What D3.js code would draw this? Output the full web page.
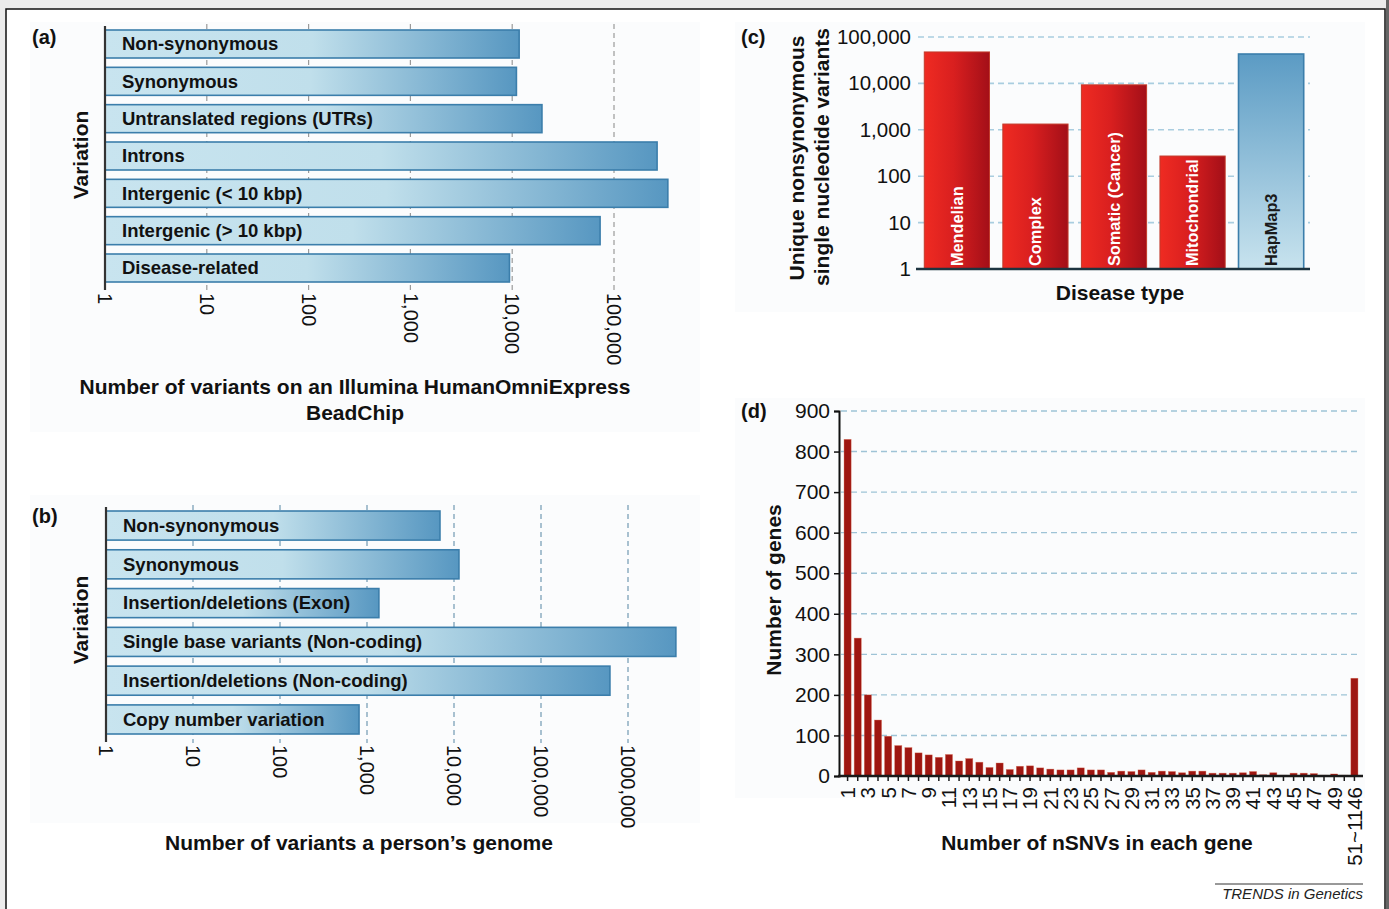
<!DOCTYPE html>
<html>
<head>
<meta charset="utf-8">
<script src="https://cdn.jsdelivr.net/npm/d3@7"></script>
<style>
  body { margin: 0; background: #ececec; }
  svg { display: block; font-family: "Liberation Sans", Arial, Helvetica, sans-serif; }
</style>
</head>
<body>
<svg id="fig" width="1389" height="909"></svg>
<script>
// ---- data ----
var aCategories = ["Non-synonymous", "Synonymous", "Untranslated regions (UTRs)", "Introns",
                   "Intergenic (< 10 kbp)", "Intergenic (> 10 kbp)", "Disease-related"];
var aValues = [11700, 11000, 19600, 265000, 338000, 73000, 9400];
var aTicks = [1, 10, 100, 1000, 10000, 100000];
var aTickLabels = ["1", "10", "100", "1,000", "10,000", "100,000"];

var bCategories = ["Non-synonymous", "Synonymous", "Insertion/deletions (Exon)",
                   "Single base variants (Non-coding)", "Insertion/deletions (Non-coding)",
                   "Copy number variation"];
var bValues = [6900, 11400, 1370, 3550000, 620000, 810];
var bTicks = [1, 10, 100, 1000, 10000, 100000, 1000000];
var bTickLabels = ["1", "10", "100", "1,000", "10,000", "100,000", "1000,000"];

var cCategories = ["Mendelian", "Complex", "Somatic (Cancer)", "Mitochondrial", "HapMap3"];
var cValues = [47600, 1330, 9300, 272, 43000];
var cTicks = [1, 10, 100, 1000, 10000, 100000];

var dCategories = ["1","2","3","4","5","6","7","8","9","10","11","12","13","14","15","16","17",
                   "18","19","20","21","22","23","24","25","26","27","28","29","30","31","32","33",
                   "34","35","36","37","38","39","40","41","42","43","44","45","46","47","48","49",
                   "50","51~1146"];
var dValues = [830, 340, 200, 138, 98, 75, 70, 57, 52, 46, 53, 37, 43, 34, 21, 32, 16, 24, 25, 20,
               17, 15, 15, 20, 15, 15, 9, 12, 11, 15, 9, 12, 11, 8, 12, 12, 7, 7, 7, 8, 11, 3, 8,
               2, 7, 7, 6, 2, 5, 2, 241];
var dTicks = [0, 100, 200, 300, 400, 500, 600, 700, 800, 900];

var svg = d3.select("#fig");

// ---- gradients ----
var defs = svg.append("defs");
var blueH = defs.append("linearGradient").attr("id", "blueH");
blueH.append("stop").attr("offset", "0%").attr("stop-color", "#c8e4ef");
blueH.append("stop").attr("offset", "50%").attr("stop-color", "#c0dfeb");
blueH.append("stop").attr("offset", "100%").attr("stop-color", "#5797c1");

var redH = defs.append("linearGradient").attr("id", "redH");
redH.append("stop").attr("offset", "0%").attr("stop-color", "#ef2b22");
redH.append("stop").attr("offset", "45%").attr("stop-color", "#d91f1f");
redH.append("stop").attr("offset", "100%").attr("stop-color", "#a30f18");

var blueV = defs.append("linearGradient").attr("id", "blueV")
    .attr("x1", 0).attr("y1", 0).attr("x2", 0).attr("y2", 1);
blueV.append("stop").attr("offset", "0%").attr("stop-color", "#5b9bc4");
blueV.append("stop").attr("offset", "100%").attr("stop-color", "#c8e3ee");

// ---- frame and panel backgrounds ----
svg.append("rect").attr("x", 6).attr("y", 9).attr("width", 1379).attr("height", 910)
    .attr("fill", "#fff").attr("stroke", "#111").attr("stroke-width", 1.5);
svg.append("rect").attr("x", 1386).attr("y", 0).attr("width", 3).attr("height", 909).attr("fill", "#666");

[[30, 22, 670, 410], [30, 495, 670, 328], [735, 22, 630, 290], [735, 398, 630, 400]].forEach(function (r) {
    svg.append("rect").attr("x", r[0]).attr("y", r[1]).attr("width", r[2]).attr("height", r[3])
        .attr("fill", "#fbfcfd");
});

function panelLabel(t, x, y) {
    svg.append("text").attr("x", x).attr("y", y).text(t)
        .attr("font-size", 20).attr("font-weight", "bold").attr("fill", "#111");
}

function boldTitle(t, x, y, rot) {
    var s = svg.append("text").text(t)
        .attr("font-size", 21).attr("font-weight", "bold").attr("fill", "#111")
        .attr("text-anchor", "middle");
    if (rot) s.attr("transform", "translate(" + x + "," + y + ") rotate(-90)");
    else s.attr("x", x).attr("y", y);
    return s;
}

// ---- horizontal log bar panels (a) and (b) ----
function hbarPanel(cats, vals, ticks, tickLabels, xr, yr, gridColor) {
    var x = d3.scaleLog().domain([1, ticks[ticks.length - 1]]).range(xr);
    var y = d3.scaleBand().domain(cats).range(yr).paddingInner(0.25).paddingOuter(0);
    var g = svg.append("g");

    g.selectAll("line.grid").data(ticks.slice(1)).enter().append("line")
        .attr("class", "grid")
        .attr("x1", x).attr("x2", x)
        .attr("y1", yr[0] - 6).attr("y2", yr[1] + 9)
        .attr("stroke", gridColor).attr("stroke-width", 1.2).attr("stroke-dasharray", "5,4");

    g.selectAll("rect.bar").data(vals).enter().append("rect")
        .attr("class", "bar")
        .attr("x", x(1))
        .attr("y", function (d, i) { return y(cats[i]); })
        .attr("width", function (d) { return x(d) - x(1); })
        .attr("height", y.bandwidth())
        .attr("fill", "url(#blueH)")
        .attr("stroke", "#3b7eab").attr("stroke-width", 1.6);

    g.selectAll("text.lab").data(cats).enter().append("text")
        .attr("class", "lab")
        .attr("x", x(1) + 17)
        .attr("y", function (d) { return y(d) + y.bandwidth() / 2; })
        .attr("dy", "0.34em")
        .attr("font-size", 18.5).attr("font-weight", "bold").attr("fill", "#111")
        .text(function (d) { return d; });

    g.append("line").attr("x1", x(1)).attr("x2", x(1))
        .attr("y1", yr[0] - 4).attr("y2", yr[1] + 8)
        .attr("stroke", "#333").attr("stroke-width", 2.2);

    var axis = g.append("g").attr("transform", "translate(0," + (yr[1] + 3) + ")")
        .call(d3.axisBottom(x).tickValues(ticks).tickSize(0)
            .tickFormat(function (d, i) { return tickLabels[i]; }));
    axis.attr("font-family", null).attr("font-size", null);
    axis.select(".domain").remove();
    axis.selectAll("text")
        .attr("font-size", 20).attr("fill", "#111")
        .attr("x", 8).attr("y", 0).attr("dy", "0.36em")
        .attr("transform", "rotate(90)")
        .style("text-anchor", "start");
}

hbarPanel(aCategories, aValues, aTicks, aTickLabels, [105, 614], [30, 282], "#9a9a9a");
hbarPanel(bCategories, bValues, bTicks, bTickLabels, [106, 628], [511, 734], "#7199b3");

panelLabel("(a)", 32, 44);
panelLabel("(b)", 32, 523);
boldTitle("Variation", 88, 155, true);
boldTitle("Variation", 88, 620, true);
boldTitle("Number of variants on an Illumina HumanOmniExpress", 355, 394);
boldTitle("BeadChip", 355, 420);
boldTitle("Number of variants a person\u2019s genome", 359, 850);

// ---- panel (c) ----
(function () {
    var x = d3.scaleBand().domain(cCategories).range([918, 1310]).paddingInner(0.17).paddingOuter(0.08);
    var y = d3.scaleLog().domain([1, 100000]).range([269, 37]);
    var g = svg.append("g");

    g.selectAll("line.grid").data(cTicks.slice(1)).enter().append("line")
        .attr("x1", 918).attr("x2", 1310)
        .attr("y1", y).attr("y2", y)
        .attr("stroke", "#a9cde0").attr("stroke-width", 1.6).attr("stroke-dasharray", "6,4");

    g.selectAll("rect.bar").data(cValues).enter().append("rect")
        .attr("x", function (d, i) { return x(cCategories[i]); })
        .attr("y", function (d) { return y(d); })
        .attr("width", x.bandwidth())
        .attr("height", function (d) { return y(1) - y(d); })
        .attr("fill", function (d, i) { return i === 4 ? "url(#blueV)" : "url(#redH)"; })
        .attr("stroke", function (d, i) { return i === 4 ? "#3b7eab" : "#c23a2a"; })
        .attr("stroke-width", function (d, i) { return i === 4 ? 1.6 : 1; });

    g.selectAll("text.lab").data(cCategories).enter().append("text")
        .attr("transform", function (d) {
            return "translate(" + (x(d) + x.bandwidth() / 2) + ",266) rotate(-90)";
        })
        .attr("dy", "0.36em")
        .attr("font-size", 16.3).attr("font-weight", "bold")
        .attr("fill", function (d, i) { return i === 4 ? "#1a1a1a" : "#fff"; })
        .text(function (d) { return d; });

    g.append("line").attr("x1", 916).attr("x2", 1310).attr("y1", 269).attr("y2", 269)
        .attr("stroke", "#1d3440").attr("stroke-width", 2.5);

    var axis = g.append("g").attr("transform", "translate(918,0)")
        .call(d3.axisLeft(y).tickValues(cTicks).tickSize(0).tickPadding(7).tickFormat(d3.format(",")));
    axis.attr("font-family", null).attr("font-size", null);
    axis.select(".domain").remove();
    axis.selectAll("text").attr("font-size", 20.5).attr("fill", "#111");
})();

panelLabel("(c)", 741, 44);
boldTitle("Unique nonsynonymous", 804, 158, true);
boldTitle("single nucleotide variants", 829, 157, true);
boldTitle("Disease type", 1120, 300);

// ---- panel (d) ----
(function () {
    var x = d3.scaleBand().domain(dCategories).range([841, 1361]).padding(0.3);
    var y = d3.scaleLinear().domain([0, 900]).range([776, 411]);
    var g = svg.append("g");

    g.selectAll("line.grid").data(dTicks.slice(1)).enter().append("line")
        .attr("x1", 841).attr("x2", 1361)
        .attr("y1", y).attr("y2", y)
        .attr("stroke", "#9ec3d6").attr("stroke-width", 1.4).attr("stroke-dasharray", "6,4");

    g.selectAll("rect.bar").data(dValues).enter().append("rect")
        .attr("x", function (d, i) { return x(dCategories[i]); })
        .attr("y", function (d) { return y(d); })
        .attr("width", x.bandwidth())
        .attr("height", function (d) { return y(0) - y(d); })
        .attr("fill", "#9e1611")
        .attr("stroke", "#d9664d").attr("stroke-width", 0.6).attr("stroke-opacity", 0.6);

    var yAxis = g.append("g").attr("transform", "translate(839,0)")
        .call(d3.axisLeft(y).tickValues(dTicks).tickSize(5).tickPadding(4));
    yAxis.attr("font-family", null).attr("font-size", null);
    yAxis.select(".domain").attr("stroke", "#111").attr("stroke-width", 2);
    yAxis.selectAll("line").attr("stroke", "#111").attr("stroke-width", 1.5);
    yAxis.selectAll("text").attr("font-size", 21).attr("fill", "#111");

    var xAxis = g.append("g").attr("transform", "translate(0,776)")
        .call(d3.axisBottom(x).tickSize(5).tickSizeOuter(0)
            .tickFormat(function (d, i) { return (i % 2 === 0) ? d : ""; }));
    xAxis.attr("font-family", null).attr("font-size", null);
    xAxis.select(".domain").attr("stroke", "#1a1a1a").attr("stroke-width", 2.5)
        .attr("d", "M838,0H1363");
    xAxis.selectAll("line").attr("stroke", "#1a1a1a").attr("stroke-width", 1.5);
    xAxis.selectAll("text")
        .attr("font-size", 20.5).attr("fill", "#111")
        .attr("x", -11).attr("y", 0).attr("dy", "0.36em")
        .attr("transform", "rotate(-90)")
        .style("text-anchor", "end");
})();

panelLabel("(d)", 741, 418);
boldTitle("Number of genes", 781, 590, true);
boldTitle("Number of nSNVs in each gene", 1097, 850);

// ---- footer ----
svg.append("line").attr("x1", 1215).attr("x2", 1363).attr("y1", 884).attr("y2", 884)
    .attr("stroke", "#333").attr("stroke-width", 1);
svg.append("text").attr("x", 1363).attr("y", 899).attr("text-anchor", "end")
    .attr("font-size", 15).attr("font-style", "italic").attr("fill", "#222")
    .text("TRENDS in Genetics");
</script>
</body>
</html>
